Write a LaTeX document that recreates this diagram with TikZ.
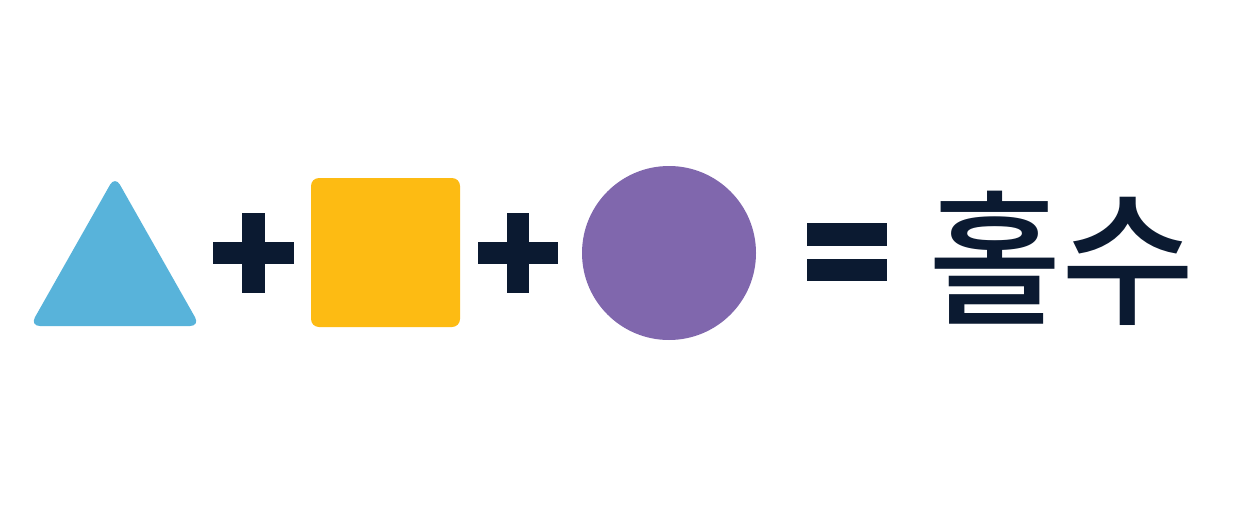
\documentclass[tikz,border=0pt]{standalone}
\usepackage{fontspec}
\newfontfamily\kr{Noto Sans CJK KR}[UprightFont=* Medium]
\definecolor{triblue}{HTML}{58B3DA}
\definecolor{sqyellow}{HTML}{FDBB13}
\definecolor{circpurple}{HTML}{8067AD}
\definecolor{navy}{HTML}{0B1A31}
\begin{document}
\begin{tikzpicture}[x=1pt,y=-1pt,
  bar/.style={fill=navy,draw=none}]
\useasboundingbox (0,0) rectangle (1250,506);
% triangle
\fill[triblue,rounded corners=10pt] (115,176) -- (200,326) -- (30,326) -- cycle;
% plus 1
\fill[navy] (213,242) rectangle (294,264);
\fill[navy] (242,213) rectangle (265,293);
% square
\fill[sqyellow,rounded corners=8pt] (311,178) rectangle (460,327);
% plus 2
\fill[navy] (478,242) rectangle (558,264);
\fill[navy] (507,213) rectangle (529,293);
% circle
\fill[circpurple] (669,253) circle[radius=87];
% equals
\fill[navy] (807,223) rectangle (887,246);
\fill[navy] (807,259) rectangle (887,281);
% text
\node[text=navy,inner sep=0pt,anchor=base west,font=\kr\fontsize{145}{145}\selectfont] (txt) at (928,313) {홀수};
\end{tikzpicture}
\end{document}
